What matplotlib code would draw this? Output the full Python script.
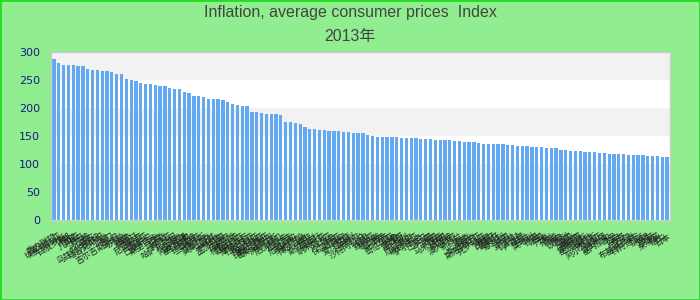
import matplotlib
matplotlib.use('Agg')
import matplotlib.pyplot as plt
from matplotlib.patches import Rectangle

# country names (x tick labels), sorted by index value
countries = [
    '委内瑞拉', '埃塞俄比亚', '白俄罗斯', '伊朗', '缅甸', '几内亚', '苏丹', '马拉维', '蒙古', '乌兹别克斯坦',
    '塔吉克斯坦', '加纳', '也门', '吉尔吉斯斯坦', '乌克兰', '越南', '埃及', '阿根廷', '尼日利亚', '赞比亚',
    '巴基斯坦', '斯里兰卡', '印度', '乌干达', '肯尼亚', '哈萨克斯坦', '海地', '阿塞拜疆', '塞拉利昂', '布隆迪',
    '坦桑尼亚', '俄罗斯', '莫桑比克', '土耳其', '卢旺达', '孟加拉国', '尼泊尔', '牙买加', '格鲁吉亚', '亚美尼亚',
    '摩尔多瓦', '拉脱维亚', '罗马尼亚', '塞尔维亚', '印度尼西亚', '哥斯达黎加', '洪都拉斯', '尼加拉瓜', '巴拉圭', '乌拉圭',
    '危地马拉', '多米尼加', '博茨瓦纳', '南非', '斯威士兰', '莱索托', '纳米比亚', '冈比亚', '冰岛', '保加利亚',
    '立陶宛', '爱沙尼亚', '匈牙利', '卡塔尔', '沙特阿拉伯', '约旦', '叙利亚', '黎巴嫩', '菲律宾', '巴西',
    '哥伦比亚', '秘鲁', '墨西哥', '智利', '厄瓜多尔', '玻利维亚', '萨尔瓦多', '巴拿马', '中国', '泰国',
    '马来西亚', '韩国', '新加坡', '澳大利亚', '新西兰', '波兰', '捷克', '斯洛伐克', '斯洛文尼亚', '克罗地亚',
    '希腊', '西班牙', '葡萄牙', '意大利', '英国', '爱尔兰', '比利时', '卢森堡', '荷兰', '奥地利',
    '德国', '法国', '丹麦', '芬兰', '挪威', '瑞典', '以色列', '美国', '加拿大', '摩洛哥',
    '塞浦路斯', '马耳他', '突尼斯', '阿尔及利亚', '喀麦隆', '塞内加尔', '马里', '贝宁', '多哥', '尼日尔',
    '布基纳法索', '科特迪瓦', '加蓬', '乍得', '文莱', '柬埔寨', '瑞士', '日本',
]

# index values, 2013
values = [
    286.6, 279.5, 276, 276, 276, 274, 274, 269, 267, 267,
    265, 265, 263.5, 260, 260, 251, 249, 247.5, 244, 242,
    242, 240, 238.5, 238.5, 235, 233, 233, 228, 226, 221,
    221, 219, 215.4, 215.4, 215.4, 213.6, 210, 206.5, 204.7, 203,
    203, 192, 192, 190.5, 188.7, 188.7, 188.7, 187, 174.5, 174.5,
    172.7, 171, 165.6, 162, 162, 160, 160, 158.4, 158.4, 158.4,
    156.7, 156.7, 155, 155, 155, 151.3, 149.5, 147.8, 147.8, 147.8,
    147.8, 147.8, 146, 146, 146, 146, 144.2, 144.2, 144.2, 142.4,
    142.4, 142.4, 142.4, 140.6, 140.6, 138.9, 138.9, 138.9, 137, 135.3,
    135.3, 135.3, 135.3, 135.3, 133.5, 133.5, 131.7, 131.7, 131.7, 129.9,
    129.9, 129.9, 128.2, 128.2, 128.2, 124.6, 124.6, 122.8, 122.8, 122.8,
    121.0, 121.0, 121.0, 119.3, 119.3, 117.5, 117.5, 117.5, 117.5, 115.7,
    115.7, 115.7, 115.7, 113.9, 113.9, 113.9, 112.1, 112.1,
]

yticks = [0, 50, 100, 150, 200, 250, 300]

bg = '#90ee90'
fig = plt.figure(figsize=(7, 3), dpi=100, facecolor=bg)
fig.patches.append(Rectangle((0, 0), 1, 1, transform=fig.transFigure,
                             fill=False, edgecolor='#22dd22', linewidth=2))

ax = fig.add_axes([51 / 700, 80 / 300, 619 / 700, 168.5 / 300])
ax.set_facecolor('white')

# alternating bands
for lo in yticks[:-1]:
    if (lo // 50) % 2 == 1:
        ax.axhspan(lo, lo + 50, color='#f2f2f2', zorder=0, linewidth=0)

x = list(range(len(values)))
ax.bar(x, values, width=0.68, color='#63a9f2', zorder=2)

ax.set_xlim(-0.6, len(values) - 0.4)
ax.set_ylim(0, 300)
ax.set_yticks(yticks)
ax.set_yticklabels([str(v) for v in yticks], color='#1a1a80', fontsize=8)
ax.set_xticks(x)
ax.set_xticklabels(countries, rotation=32, ha='right', rotation_mode='anchor',
                   fontsize=6, family=['Noto Sans CJK SC', 'DejaVu Sans'], color='#222222')
ax.tick_params(axis='both', length=0)
ax.tick_params(axis='y', pad=8)
ax.tick_params(axis='x', pad=8)
for s in ax.spines.values():
    s.set_color('#cccccc')
    s.set_linewidth(1)

fig.text(0.5, 1 - 13 / 300, 'Inflation, average consumer prices  Index', ha='center', va='center',
         fontsize=11.5, color='#444444', family=['Liberation Sans', 'Noto Sans CJK SC'])
fig.text(0.5, 1 - 37 / 300, '2013年', ha='center', va='center',
         fontsize=11.5, color='#444444', family=['Liberation Sans', 'Noto Sans CJK SC'])

fig.savefig('out.png', dpi=100, facecolor=bg)
